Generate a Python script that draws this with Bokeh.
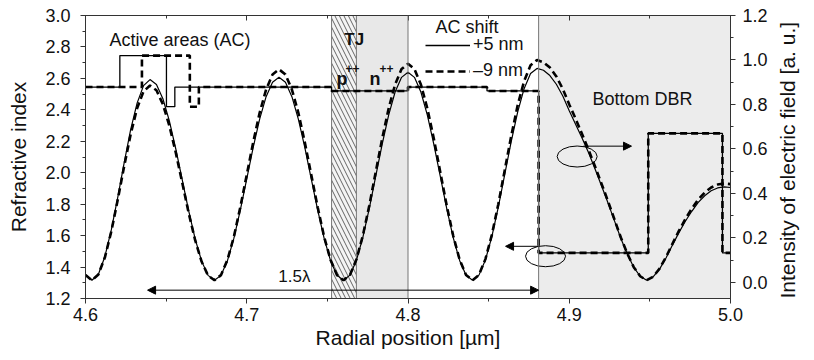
import math
from bokeh.plotting import figure
from bokeh.models import (Range1d, LinearAxis, Label, Arrow, NormalHead, Legend,
                          LegendItem, FixedTicker, Span, PrintfTickFormatter)
from bokeh.embed import file_html
from bokeh.resources import INLINE

FONT = "Liberation Sans"

# ---------------- data ----------------
# radial positions of the field samples [um]
x_field = [4.600, 4.604, 4.608, 4.612, 4.616, 4.620, 4.624, 4.628, 4.632, 4.636, 4.640,
           4.644, 4.648, 4.652, 4.656, 4.660, 4.664, 4.668, 4.672, 4.676, 4.680,
           4.684, 4.688, 4.692, 4.696, 4.700, 4.704, 4.708, 4.712, 4.716, 4.720,
           4.724, 4.728, 4.732, 4.736, 4.740, 4.744, 4.748, 4.752, 4.756, 4.760,
           4.764, 4.768, 4.772, 4.776, 4.780, 4.784, 4.788, 4.792, 4.796, 4.800,
           4.804, 4.808, 4.812, 4.816, 4.820, 4.824, 4.828, 4.832, 4.836, 4.840,
           4.844, 4.848, 4.852, 4.856, 4.860, 4.864, 4.868, 4.872, 4.876, 4.880,
           4.884, 4.888, 4.892, 4.896, 4.900, 4.904, 4.908, 4.912, 4.916, 4.920,
           4.924, 4.928, 4.932, 4.936, 4.940, 4.944, 4.948,
           4.952, 4.956, 4.960, 4.964, 4.968, 4.972, 4.976, 4.980, 4.984, 4.988,
           4.992, 4.996, 5.000]

# intensity of electric field, AC shift +5 nm (solid)
field_plus5 = [0.035, 0.010, 0.037, 0.116, 0.236, 0.383, 0.539, 0.687, 0.806, 0.885, 0.912,
               0.890, 0.826, 0.726, 0.600, 0.461, 0.322, 0.196, 0.096, 0.032, 0.010,
               0.032, 0.097, 0.198, 0.325, 0.466, 0.607, 0.734, 0.835, 0.900, 0.922,
               0.900, 0.835, 0.734, 0.607, 0.466, 0.325, 0.198, 0.097, 0.032, 0.010,
               0.033, 0.099, 0.203, 0.333, 0.478, 0.622, 0.752, 0.856, 0.922, 0.945,
               0.922, 0.856, 0.752, 0.622, 0.478, 0.333, 0.203, 0.099, 0.033, 0.010,
               0.033, 0.101, 0.206, 0.339, 0.486, 0.633, 0.766, 0.871, 0.939, 0.962,
               0.954, 0.930, 0.891, 0.838, 0.772, 0.710, 0.648, 0.583, 0.510, 0.435,
               0.358, 0.278, 0.198, 0.128, 0.068, 0.028, 0.010,
               0.025, 0.060, 0.110, 0.168, 0.224, 0.275, 0.320, 0.360, 0.390, 0.412,
               0.425, 0.430, 0.427]

# intensity of electric field, AC shift -9 nm (dashed)
field_minus9 = [0.034, 0.010, 0.036, 0.112, 0.229, 0.372, 0.523, 0.666, 0.783, 0.859, 0.885,
                0.864, 0.801, 0.705, 0.583, 0.448, 0.312, 0.190, 0.094, 0.031, 0.010,
                0.033, 0.101, 0.205, 0.338, 0.484, 0.630, 0.763, 0.867, 0.935, 0.958,
                0.935, 0.867, 0.763, 0.630, 0.484, 0.338, 0.205, 0.101, 0.033, 0.010,
                0.034, 0.103, 0.211, 0.346, 0.497, 0.647, 0.782, 0.890, 0.959, 0.983,
                0.959, 0.890, 0.782, 0.647, 0.497, 0.346, 0.211, 0.103, 0.034, 0.010,
                0.034, 0.105, 0.214, 0.352, 0.505, 0.658, 0.796, 0.905, 0.976, 1.000,
                0.990, 0.966, 0.926, 0.870, 0.800, 0.735, 0.666, 0.596, 0.521, 0.444,
                0.366, 0.284, 0.202, 0.130, 0.069, 0.028, 0.010,
                0.026, 0.062, 0.114, 0.174, 0.232, 0.285, 0.332, 0.373, 0.404, 0.427,
                0.440, 0.445, 0.442]

# refractive index profiles (step edges and values)
n_edges_plus5 = [4.600, 4.6213, 4.6502, 4.6554, 4.7526, 4.800, 4.849, 4.881, 4.949, 4.995, 5.000]
n_plus5 = [2.545, 2.745, 2.420, 2.545, 2.520, 2.545, 2.520, 1.490, 2.250, 1.490, 1.490]
n_edges_minus9 = [4.600, 4.6350, 4.6647, 4.6703, 4.7526, 4.800, 4.849, 4.881, 4.949, 4.995, 5.000]
n_minus9 = [2.545, 2.745, 2.420, 2.545, 2.520, 2.545, 2.520, 1.490, 2.250, 1.490, 1.490]

legend_labels = ["+5 nm", "\u20139 nm"]

x_ticks = [4.6, 4.7, 4.8, 4.9, 5.0]
x_minor = [4.6, 4.65, 4.7, 4.75, 4.8, 4.85, 4.9, 4.95, 5.0]
n_ticks = [1.2, 1.4, 1.6, 1.8, 2.0, 2.2, 2.4, 2.6, 2.8, 3.0]
n_minor = [1.2, 1.3, 1.4, 1.5, 1.6, 1.7, 1.8, 1.9, 2.0, 2.1, 2.2, 2.3, 2.4, 2.5, 2.6, 2.7, 2.8, 2.9, 3.0]
f_ticks = [0.0, 0.2, 0.4, 0.6, 0.8, 1.0, 1.2]
f_minor = [0.0, 0.1, 0.2, 0.3, 0.4, 0.5, 0.6, 0.7, 0.8, 0.9, 1.0, 1.1, 1.2]

# structure regions [um]
TJ_START, TJ_END = 4.7526, 4.768
NPP_END = 4.800
DBR_START = 4.881
X_MIN, X_MAX = 4.6, 5.0
N_MIN, N_MAX = 1.2, 3.0
F_MIN, F_MAX = -0.072, 1.2

# ---------------- figure ----------------
p = figure(width=814, height=360, x_range=Range1d(X_MIN, X_MAX), y_range=Range1d(N_MIN, N_MAX),
           output_backend="svg", toolbar_location=None,
           min_border_left=85, min_border_right=84, min_border_top=15, min_border_bottom=62)
p.extra_y_ranges = {"field": Range1d(F_MIN, F_MAX)}
p.xgrid.visible = False
p.ygrid.visible = False
p.outline_line_color = "#333333"
p.background_fill_color = "white"
p.border_fill_color = "white"


def style_axis(ax, labels=True):
    ax.axis_line_color = "#333333"
    ax.major_tick_line_color = "#333333"
    ax.minor_tick_line_color = "#333333"
    ax.major_tick_out = 5
    ax.major_tick_in = 0
    ax.minor_tick_out = 3
    ax.minor_tick_in = 0
    ax.formatter = PrintfTickFormatter(format="%.1f")
    ax.major_label_text_font = FONT
    ax.major_label_text_font_size = "18px"
    ax.major_label_text_color = "#111111" if labels else None
    ax.axis_label_text_font = FONT
    ax.axis_label_text_font_style = "normal"
    ax.axis_label_text_font_size = "21px"
    ax.axis_label_text_color = "#111111"


xa = p.xaxis[0]
xa.ticker = FixedTicker(ticks=x_ticks, minor_ticks=x_minor)
style_axis(xa)
xa.major_label_standoff = 4
xa.axis_label = "Radial position [\u00b5m]"
xa.axis_label_standoff = 2

ya = p.yaxis[0]
ya.ticker = FixedTicker(ticks=n_ticks, minor_ticks=n_minor)
style_axis(ya)
ya.major_label_standoff = 10
ya.axis_label = "Refractive index"
ya.axis_label_standoff = 12

ra = LinearAxis(y_range_name="field", ticker=FixedTicker(ticks=f_ticks, minor_ticks=f_minor))
style_axis(ra)
ra.major_label_standoff = 7
ra.axis_label = "Intensity of electric field [a. u.]"
ra.axis_label_standoff = 17
try:
    ra.axis_label_orientation = math.pi / 2
except Exception:
    pass
try:
    ra.axis_label_align = "start"
except Exception:
    pass
p.add_layout(ra, "right")

ta = LinearAxis(ticker=FixedTicker(ticks=x_ticks, minor_ticks=x_minor))
style_axis(ta, labels=False)
ta.major_tick_out = 0
ta.major_tick_in = 5
ta.minor_tick_out = 0
ta.minor_tick_in = 3
ta.major_label_standoff = 0
ta.major_label_text_font_size = "1px"
p.add_layout(ta, "above")

# ---------------- structure shading ----------------
p.quad(left=[TJ_END], right=[NPP_END], bottom=[N_MIN], top=[N_MAX],
       fill_color="#e8e8e8", line_color=None)
p.quad(left=[DBR_START], right=[X_MAX], bottom=[N_MIN], top=[N_MAX],
       fill_color="#ececec", line_color=None)
p.quad(left=[TJ_START], right=[TJ_END], bottom=[N_MIN], top=[N_MAX],
       fill_color="#f4f4f4", hatch_pattern="\\", hatch_color="#555555", hatch_scale=9,
       hatch_weight=0.9, line_color="#777777", line_width=1)
for loc in (NPP_END, DBR_START):
    p.add_layout(Span(location=loc, dimension="height", line_color="#777777", line_width=1))

# ---------------- curves ----------------
p.line(x_field, field_plus5, y_range_name="field", line_color="black", line_width=1.2)
p.line(x_field, field_minus9, y_range_name="field", line_color="black", line_width=2.6,
       line_dash="7 4")
r_n_solid = p.step(n_edges_plus5, n_plus5, mode="after", line_color="black", line_width=1.3)
r_n_dash = p.step(n_edges_minus9, n_minus9, mode="after", line_color="black", line_width=2.6,
                  line_dash="7 4")

# ---------------- annotations ----------------
ELL_X = [4.9049, 4.8853]
ELL_Y = [2.103, 1.469]
p.ellipse(x=ELL_X, y=ELL_Y, width=40, height=21, width_units="screen", height_units="screen",
          fill_color=None, line_color="black", line_width=1)


def arrow(x0, y0, x1, y1, both=False):
    head = NormalHead(size=8, fill_color="black", line_color="black", line_width=1)
    kw = dict(end=head, x_start=x0, y_start=y0, x_end=x1, y_end=y1,
              line_color="black", line_width=1)
    if both:
        kw["start"] = NormalHead(size=8, fill_color="black", line_color="black", line_width=1)
    else:
        kw["start"] = None
    p.add_layout(Arrow(**kw))


arrow(4.9088, 2.169, 4.9386, 2.169)          # to field axis
arrow(4.881, 1.532, 4.8605, 1.532)           # to index axis
arrow(4.6385, 1.253, 4.881, 1.253, both=True)  # 1.5 lambda


def label(x, y, text, size="18px", style="normal", align="left", baseline="middle"):
    p.add_layout(Label(x=x, y=y, text=text, text_font=FONT, text_font_size=size,
                       text_font_style=style, text_align=align, text_baseline=baseline,
                       text_color="#111111"))


label(4.6149, 2.841, "Active areas (AC)")
label(4.9144, 2.472, "Bottom DBR")
label(4.8171, 2.924, "AC shift")
label(4.7395, 1.342, "1.5\u03bb", size="17px", align="right")
label(4.7605, 2.847, "TJ", size="17px", style="bold")
label(4.7557, 2.599, "p", size="18px", style="bold", baseline="alphabetic")
label(4.7612, 2.663, "++", size="12px", style="bold", baseline="alphabetic")
label(4.7761, 2.599, "n", size="18px", style="bold", baseline="alphabetic")
label(4.7823, 2.663, "++", size="12px", style="bold", baseline="alphabetic")

legend = Legend(items=[LegendItem(label=legend_labels[0], renderers=[r_n_solid]),
                       LegendItem(label=legend_labels[1], renderers=[r_n_dash])],
                location=(340, 217), background_fill_alpha=0, border_line_color=None,
                padding=0, margin=0, spacing=5, glyph_width=45, glyph_height=20,
                label_height=20, label_standoff=3, label_text_font=FONT,
                label_text_font_size="18px", label_text_color="#111111")
p.add_layout(legend)

open("out.html", "w").write(file_html(p, INLINE))
